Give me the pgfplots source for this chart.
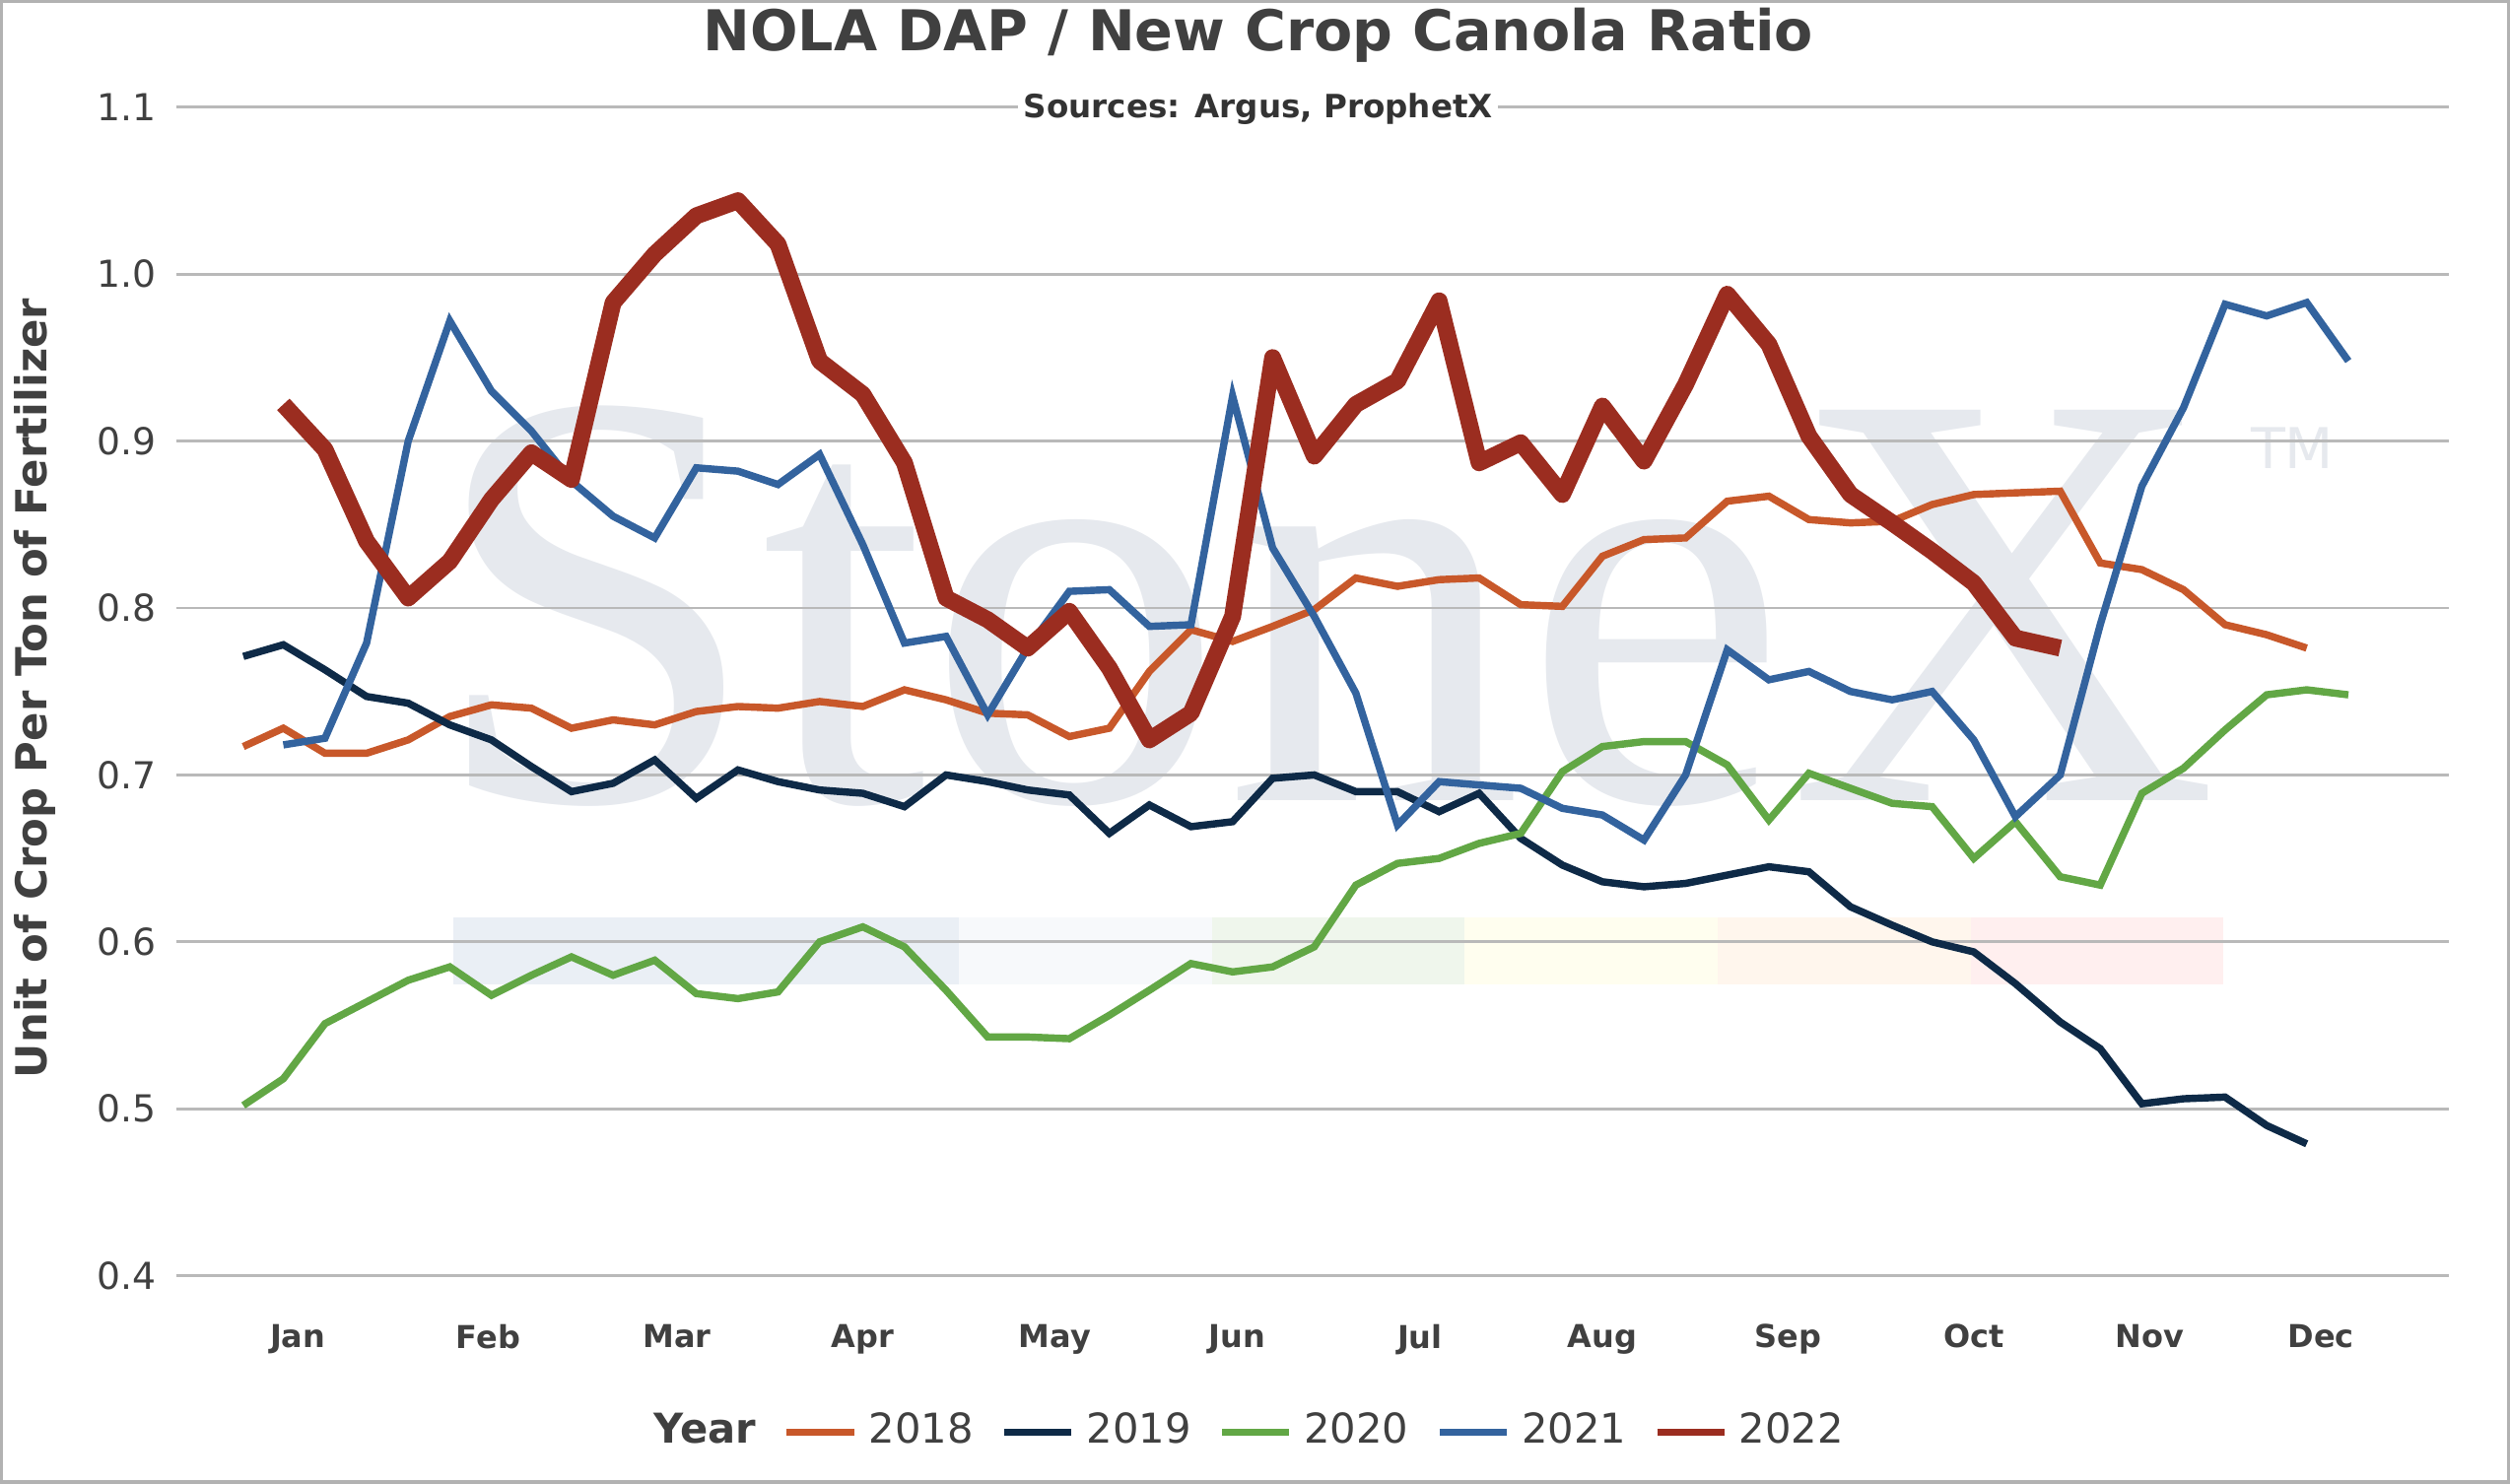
\documentclass[border=0pt]{standalone}
\usepackage{pgfplots}
\pgfplotsset{compat=1.18}
\usepackage{fontspec}
\setmainfont{DejaVu Sans}
\newfontfamily\serifwm{Liberation Serif}
\definecolor{c18}{HTML}{C8582A}
\definecolor{c19}{HTML}{0E2A47}
\definecolor{c20}{HTML}{62A745}
\definecolor{c21}{HTML}{33639E}
\definecolor{c22}{HTML}{9B2D20}
\definecolor{txt}{HTML}{404040}
\definecolor{wm}{HTML}{E6E9EE}
\begin{document}
\begin{tikzpicture}[x=1cm,y=1cm]
\path[use as bounding box] (-1.10,-1.30) rectangle (14.58,7.97);
\draw[gray!60,line width=0.6pt] (-1.09,-1.29) rectangle (14.57,7.96);
\node[overlay,text=wm,font=\serifwm\fontsize{106}{106}\selectfont,anchor=base,inner sep=0pt] at (7.17,2.97) {StoneX};
\node[overlay,text=wm,font=\fontsize{10}{10}\selectfont] at (13.22,5.17) {TM};
\foreach \x/\c in {1.73/c21,3.31/c21,4.89/c21!40,6.47/c20,8.05/yellow!60,9.63/orange!70,11.21/red!60}
  \fill[\c,opacity=0.10] (\x,1.82) rectangle ++(1.58,0.42);
\begin{axis}[at={(0,0)},anchor=south west,scale only axis,width=14.2cm,height=7.3cm,
  xmin=110,xmax=1530,ymin=0.4,ymax=1.1,
  axis line style={draw=none},
  ytick={0.4,0.5,...,1.1},
  yticklabel style={/pgf/number format/fixed,/pgf/number format/precision=1,/pgf/number format/fixed zerofill,font=\fontsize{6.6}{8}\selectfont,text=txt},
  /pgf/number format/assume math mode=true,
  ymajorgrids, grid style={gray!55,line width=0.5pt},
  major tick length=0pt,
  xtick={186,305,423,539,659,773,887,1001,1117,1233,1343,1450},
  xticklabels={Jan,Feb,Mar,Apr,May,Jun,Jul,Aug,Sep,Oct,Nov,Dec},
  xticklabel style={font=\bfseries\fontsize{5.6}{7}\selectfont,text=txt,yshift=-0.18cm},
  ylabel={\bfseries Unit of Crop Per Ton of Fertilizer},
  every axis y label/.style={at={(-0.88cm,3.67cm)},rotate=90,anchor=center,font=\fontsize{7.6}{9}\selectfont,text=txt},
  legend columns=-1,
  legend style={draw=none,fill=none,at={(axis description cs:0.472,-0.134)},anchor=center,font=\fontsize{7.3}{9}\selectfont,text=txt,/tikz/every even column/.append style={column sep=0.1cm}},
  legend image code/.code={\draw[#1,line width=1.3pt] (0cm,0cm) -- (0.42cm,0cm);},
]
\addlegendimage{empty legend}\addlegendentry{\bfseries Year}
\addplot[c18,line width=1.3pt] coordinates {(152,0.717)(177,0.728)(203,0.713)(229,0.713)(255,0.721)(281,0.735)(307,0.742)(332,0.740)(357,0.728)(383,0.733)(409,0.730)(435,0.738)(461,0.741)(486,0.740)(512,0.744)(539,0.741)(565,0.751)(591,0.745)(617,0.737)(642,0.736)(668,0.723)(693,0.728)(718,0.762)(744,0.787)(770,0.780)(795,0.789)(821,0.799)(847,0.818)(873,0.813)(899,0.817)(924,0.818)(950,0.802)(976,0.801)(1001,0.831)(1027,0.841)(1053,0.842)(1079,0.864)(1105,0.867)(1130,0.853)(1156,0.851)(1182,0.852)(1207,0.862)(1233,0.868)(1259,0.869)(1287,0.870)(1312,0.827)(1338,0.823)(1364,0.811)(1390,0.790)(1416,0.784)(1441,0.776)};
\addlegendentry{2018}
\addplot[c19,line width=1.3pt] coordinates {(152,0.771)(177,0.778)(203,0.763)(229,0.747)(255,0.743)(281,0.730)(307,0.721)(332,0.705)(357,0.690)(383,0.695)(409,0.709)(435,0.686)(461,0.703)(486,0.696)(512,0.691)(539,0.689)(565,0.681)(591,0.700)(617,0.696)(642,0.691)(668,0.688)(693,0.665)(718,0.682)(744,0.669)(770,0.672)(795,0.698)(821,0.700)(847,0.690)(873,0.690)(899,0.678)(924,0.689)(950,0.662)(976,0.646)(1001,0.636)(1027,0.633)(1053,0.635)(1079,0.640)(1105,0.645)(1130,0.642)(1156,0.621)(1182,0.610)(1207,0.600)(1233,0.594)(1259,0.575)(1287,0.552)(1312,0.536)(1338,0.503)(1364,0.506)(1390,0.507)(1416,0.490)(1441,0.479)};
\addlegendentry{2019}
\addplot[c20,line width=1.3pt] coordinates {(152,0.502)(177,0.518)(203,0.551)(229,0.564)(255,0.577)(281,0.585)(307,0.568)(332,0.580)(357,0.591)(383,0.580)(409,0.589)(435,0.569)(461,0.566)(486,0.570)(512,0.600)(539,0.609)(565,0.597)(591,0.571)(617,0.543)(642,0.543)(668,0.542)(693,0.556)(718,0.571)(744,0.587)(770,0.582)(795,0.585)(821,0.597)(847,0.634)(873,0.647)(899,0.650)(924,0.659)(950,0.665)(976,0.702)(1001,0.717)(1027,0.720)(1053,0.720)(1079,0.706)(1105,0.673)(1130,0.701)(1156,0.692)(1182,0.683)(1207,0.681)(1233,0.650)(1259,0.672)(1287,0.639)(1312,0.634)(1338,0.689)(1364,0.704)(1390,0.727)(1416,0.748)(1441,0.751)(1467,0.748)};
\addlegendentry{2020}
\addplot[c21,line width=1.3pt] coordinates {(177,0.718)(203,0.722)(229,0.779)(255,0.900)(281,0.972)(307,0.930)(332,0.906)(357,0.876)(383,0.855)(409,0.842)(435,0.884)(461,0.882)(486,0.874)(512,0.892)(539,0.838)(565,0.779)(591,0.783)(617,0.736)(642,0.776)(668,0.810)(693,0.811)(718,0.789)(744,0.790)(770,0.927)(795,0.836)(821,0.795)(847,0.749)(873,0.670)(899,0.696)(924,0.694)(950,0.692)(976,0.680)(1001,0.676)(1027,0.661)(1053,0.700)(1079,0.775)(1105,0.757)(1130,0.762)(1156,0.750)(1182,0.745)(1207,0.750)(1233,0.721)(1259,0.675)(1287,0.700)(1312,0.790)(1338,0.873)(1364,0.920)(1390,0.982)(1416,0.975)(1441,0.983)(1467,0.948)};
\addlegendentry{2021}
\addplot[c22,line width=3pt,line join=round] coordinates {(177,0.922)(203,0.895)(229,0.840)(255,0.806)(281,0.828)(307,0.865)(332,0.893)(357,0.877)(383,0.983)(409,1.012)(435,1.035)(461,1.044)(486,1.018)(512,0.948)(539,0.928)(565,0.887)(591,0.806)(617,0.793)(642,0.776)(668,0.798)(693,0.764)(718,0.721)(744,0.737)(770,0.795)(795,0.950)(821,0.891)(847,0.922)(873,0.936)(899,0.984)(924,0.887)(950,0.899)(976,0.868)(1001,0.921)(1027,0.888)(1053,0.934)(1079,0.988)(1105,0.958)(1130,0.903)(1156,0.868)(1182,0.851)(1207,0.834)(1233,0.815)(1259,0.782)(1287,0.776)};
\addlegendentry{2022}
\end{axis}
\node[font=\bfseries\fontsize{10}{12}\selectfont,text=txt] at (6.76,7.75) {NOLA DAP / New Crop Canola Ratio};
\node[font=\bfseries\fontsize{5.7}{7}\selectfont,text=txt!80!black,fill=white,inner sep=1pt] at (6.76,7.29) {Sources: Argus, ProphetX};
\end{tikzpicture}
\end{document}
